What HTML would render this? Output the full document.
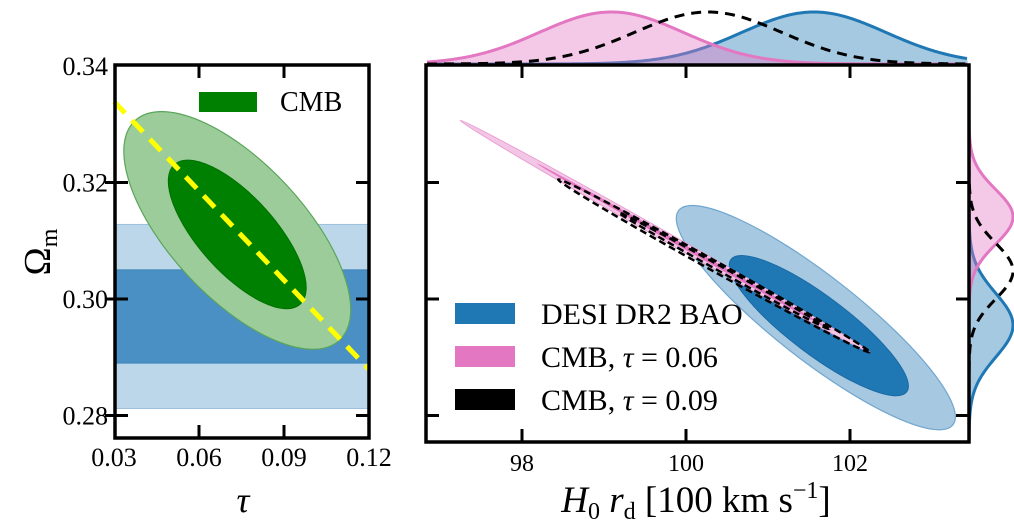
<!DOCTYPE html>
<html><head><meta charset="utf-8"><style>
html,body{margin:0;padding:0;background:#fff;}
svg{display:block;}
text{font-family:"Liberation Serif",serif;fill:#000;}
</style></head><body>
<svg id="chart" width="1014" height="530" viewBox="0 0 1014 530" xmlns="http://www.w3.org/2000/svg">
<g id="left"></g>
<g id="right"></g>
</svg>
<script>
// ---- data ----
const leftXTicks = [0.03, 0.06, 0.09, 0.12];
const leftXTickLabels = ["0.03", "0.06", "0.09", "0.12"];
const yTicks = [0.28, 0.30, 0.32, 0.34];
const yTickLabels = ["0.28", "0.30", "0.32", "0.34"];
const rightXTicks = [98, 100, 102];
const rightXTickLabels = ["98", "100", "102"];
const baoBand68 = [0.289, 0.305];
const baoBand95 = [0.2812, 0.3128];
const cmbCenter = [0.0735, 0.3116];
const degenLineTau = [0.03, 0.12];
const degenLineOm = [0.3339, 0.2879];
const baoCenter = [101.62, 0.2968];
const cmb06Center = [99.74, 0.3108];
const cmb09Center = [100.34, 0.3057];
const topMeans = [101.56, 99.09, 100.27];
const topSigmas = [0.88, 0.88, 0.9];
const rightMeans = [0.2955, 0.3141, 0.3048];
const rightSigmas = [0.0055, 0.0047, 0.0048];
const legendLabels = ["DESI DR2 BAO", "CMB, \u03c4 = 0.06", "CMB, \u03c4 = 0.09"];

// ---- scales ----
const lx = v => 114 + (v - 0.03) / 0.03 * 85;
const ly = v => 299 - (v - 0.30) * 5825;
const rx = v => 522 + (v - 98) * 82;
const NS = "http://www.w3.org/2000/svg";
function mk(parent, tag, attrs, text) {
  const e = document.createElementNS(NS, tag);
  for (const k in attrs) e.setAttribute(k, attrs[k]);
  if (text !== undefined) e.textContent = text;
  parent.appendChild(e);
  return e;
}
const L = document.getElementById('left');
const R = document.getElementById('right');

// ---- left panel ----
let e;
e = mk(L, 'rect', {x: 114, y: ly(baoBand95[1]), width: 255, height: ly(baoBand95[0]) - ly(baoBand95[1]), fill: '#bcd6ea', stroke: '#9cc0de', 'stroke-width': 1});


e = mk(L, 'rect', {x: 114, y: ly(baoBand68[1]), width: 255, height: ly(baoBand68[0]) - ly(baoBand68[1]), fill: '#4a90c4', stroke: '#3a82b8', 'stroke-width': 1});


{
  const cx = lx(cmbCenter[0]), cy = ly(cmbCenter[1]);
  e = mk(L, 'ellipse', {cx: cx, cy: cy - 1, rx: 150, ry: 67, transform: `rotate(47 ${cx} ${cy - 1})`, fill: '#9ccc9a', stroke: '#5aa55a', 'stroke-width': 1.2});
  
  
  e = mk(L, 'ellipse', {cx: cx, cy: cy + 3, rx: 94, ry: 38, transform: `rotate(48 ${cx} ${cy + 3})`, fill: '#008000', stroke: '#007000', 'stroke-width': 1});
  
  
}
e = mk(L, 'line', {x1: lx(degenLineTau[0]), y1: ly(degenLineOm[0]), x2: lx(degenLineTau[1]), y2: ly(degenLineOm[1]), stroke: '#ffff00', 'stroke-width': 5, 'stroke-dasharray': '16,10'});


// legend
e = mk(L, 'rect', {x: 199, y: 92, width: 58, height: 20, fill: '#008000'});


e = mk(L, 'text', {x: 280, y: 111, 'font-size': 28}, 'CMB');


// frame
e = mk(L, 'rect', {x: 115, y: 65, width: 254, height: 373, fill: 'none', stroke: '#000', 'stroke-width': 3.5});


leftXTicks.forEach((t, i) => {
  const x = lx(t);
  if (i > 0 && i < leftXTicks.length - 1) {
    mk(L, 'line', {x1: x, y1: 65, x2: x, y2: 78, stroke: '#000', 'stroke-width': 3});
    mk(L, 'line', {x1: x, y1: 438, x2: x, y2: 425, stroke: '#000', 'stroke-width': 3});
  }
  e = mk(L, 'text', {x: x, y: 466, 'font-size': 26, 'text-anchor': 'middle'}, leftXTickLabels[i]);
  
  
});
yTicks.forEach((t, i) => {
  const y = ly(t);
  if (t !== 0.34) {
    mk(L, 'line', {x1: 105, y1: y, x2: 128, y2: y, stroke: '#000', 'stroke-width': 3});
    mk(L, 'line', {x1: 356, y1: y, x2: 369, y2: y, stroke: '#000', 'stroke-width': 3});
  }
  e = mk(L, 'text', {x: 108, y: y + 9, 'font-size': 26, 'text-anchor': 'end'}, yTickLabels[i]);
  
  
});
e = mk(L, 'text', {x: 0, y: 0, 'font-size': 38, transform: 'translate(50,252) rotate(-90)', 'text-anchor': 'middle'}, '');
e.innerHTML = '\u03a9<tspan font-size="24" dy="7">m</tspan>';


e = mk(L, 'text', {x: 243, y: 512, 'font-size': 36, 'font-style': 'italic', 'text-anchor': 'middle'}, '\u03c4');



// ---- right panel ----
{
  const cx = rx(baoCenter[0]), cy = ly(baoCenter[1]);
  e = mk(R, 'ellipse', {cx: cx - 3, cy: cy, rx: 174, ry: 42, transform: `rotate(38 ${cx - 3} ${cy})`, fill: '#a6c8e0', stroke: '#6fa6d0', 'stroke-width': 1.2});
  
  
  e = mk(R, 'ellipse', {cx: cx, cy: cy + 8, rx: 110, ry: 29, transform: `rotate(37 ${cx} ${cy + 8})`, fill: '#1f77b4', stroke: '#1a6aa5', 'stroke-width': 1});
  
  
}
{
  const cx = rx(cmb06Center[0]), cy = ly(cmb06Center[1]);
  e = mk(R, 'ellipse', {cx: cx, cy: cy, rx: 235, ry: 4.5, transform: `rotate(29.5 ${cx} ${cy})`, fill: '#f3c6e6', stroke: '#e9a0d4', 'stroke-width': 1});
  
  
  e = mk(R, 'ellipse', {cx: cx + 20, cy: cy + 11, rx: 170, ry: 2, transform: `rotate(29.5 ${cx + 20} ${cy + 11})`, fill: '#e377c2'});
  
  
}
{
  const cx = rx(cmb09Center[0]), cy = ly(cmb09Center[1]);
  e = mk(R, 'ellipse', {cx: cx, cy: cy, rx: 178, ry: 5, transform: `rotate(29 ${cx} ${cy})`, fill: 'none', stroke: '#000', 'stroke-width': 2.5, 'stroke-dasharray': '7,4'});
  
  
  e = mk(R, 'ellipse', {cx: cx + 10, cy: cy + 5, rx: 120, ry: 2.5, transform: `rotate(29 ${cx + 10} ${cy + 5})`, fill: 'none', stroke: '#000', 'stroke-width': 2.5, 'stroke-dasharray': '7,4'});
  
  
}
// top marginal
const topStyles = [
  {fill: 'rgba(31,119,180,0.4)', stroke: '#1f77b4', dash: null, name: 'top-marginal-bao'},
  {fill: 'rgba(227,119,194,0.4)', stroke: '#e377c2', dash: null, name: 'top-marginal-cmb006'},
  {fill: 'none', stroke: '#000', dash: '10,7', name: 'top-marginal-cmb009'}
];
const topBase = 64, topH = 52;
topMeans.forEach((m, i) => {
  let d = '';
  for (let px = 427; px <= 968; px += 2) {
    const v = 98 + (px - 522) / 82;
    const y = topBase - topH * Math.exp(-0.5 * Math.pow((v - m) / topSigmas[i], 2));
    d += (d ? 'L' : 'M') + px + ',' + y.toFixed(2);
  }
  const st = topStyles[i];
  if (st.fill !== 'none') {
    e = mk(R, 'path', {d: d + `L968,${topBase}L427,${topBase}Z`, fill: st.fill, stroke: 'none'});
    
    
  }
  e = mk(R, 'path', {d: d, fill: 'none', stroke: st.stroke, 'stroke-width': 3, 'stroke-dasharray': st.dash || 'none'});
  
  
});
// right marginal
const rBase = 969, rH = 44;
rightMeans.forEach((m, i) => {
  let d = '';
  for (let py = 65; py <= 441; py += 2) {
    const v = 0.30 - (py - 299) / 5825;
    const x = rBase + rH * Math.exp(-0.5 * Math.pow((v - m) / rightSigmas[i], 2));
    d += (d ? 'L' : 'M') + x.toFixed(2) + ',' + py;
  }
  const st = topStyles[i];
  if (st.fill !== 'none') {
    e = mk(R, 'path', {d: d + `L${rBase},441L${rBase},65Z`, fill: st.fill, stroke: 'none'});
    
    
  }
  e = mk(R, 'path', {d: d, fill: 'none', stroke: st.stroke, 'stroke-width': 3, 'stroke-dasharray': st.dash || 'none'});
  
  
});
// legend
const legColors = ['#1f77b4', '#e377c2', '#000'];
legendLabels.forEach((lab, i) => {
  const y = 303 + i * 43;
  e = mk(R, 'rect', {x: 455, y: y, width: 60, height: 21, fill: legColors[i]});
  
  
  e = mk(R, 'text', {x: 541, y: y + 21, 'font-size': 30}, '');
  if (i === 0) e.textContent = lab;
  else e.innerHTML = 'CMB, <tspan font-style="italic">\u03c4</tspan> = ' + (i === 1 ? '0.06' : '0.09');
  
  
});
// frame
e = mk(R, 'rect', {x: 426, y: 65, width: 543, height: 377, fill: 'none', stroke: '#000', 'stroke-width': 3.5});


rightXTicks.forEach((t, i) => {
  const x = rx(t);
  mk(R, 'line', {x1: x, y1: 65, x2: x, y2: 78, stroke: '#000', 'stroke-width': 3});
  mk(R, 'line', {x1: x, y1: 442, x2: x, y2: 429, stroke: '#000', 'stroke-width': 3});
  e = mk(R, 'text', {x: x, y: 471, 'font-size': 24, 'text-anchor': 'middle'}, rightXTickLabels[i]);
  
  
});
yTicks.forEach(t => {
  if (t === 0.34) return;
  const y = ly(t);
  mk(R, 'line', {x1: 426, y1: y, x2: 439, y2: y, stroke: '#000', 'stroke-width': 3});
  mk(R, 'line', {x1: 956, y1: y, x2: 969, y2: y, stroke: '#000', 'stroke-width': 3});
});
e = mk(R, 'text', {x: 696, y: 512, 'font-size': 37, 'text-anchor': 'middle'}, '');
e.innerHTML = '<tspan font-style="italic">H</tspan><tspan font-size="24" dy="7">0</tspan><tspan dy="-7" font-style="italic"> r</tspan><tspan font-size="24" dy="7">d</tspan><tspan dy="-7"> [100 km s</tspan><tspan font-size="24" dy="-14">\u22121</tspan><tspan dy="14">]</tspan>';


</script>
</body></html>
